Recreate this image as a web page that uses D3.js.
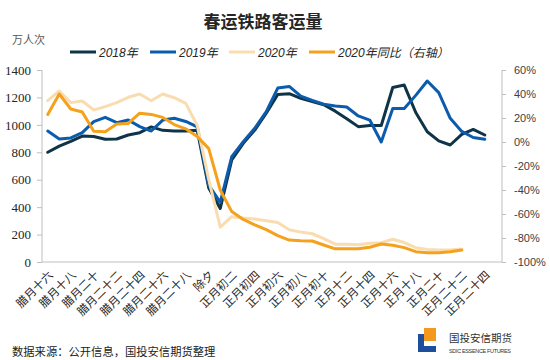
<!DOCTYPE html>
<html>
<head>
<meta charset="utf-8">
<script src="https://cdn.jsdelivr.net/npm/d3@7"></script>
<style>
  body { margin: 0; background: #fff; }
  svg { display: block; }
</style>
</head>
<body>
<div id="chart"></div>
<script>
// lunar days, one point per day
const days = ["腊月十六","腊月十七","腊月十八","腊月十九","腊月二十","腊月二十一","腊月二十二","腊月二十三",
  "腊月二十四","腊月二十五","腊月二十六","腊月二十七","腊月二十八","腊月二十九","除夕",
  "正月初一","正月初二","正月初三","正月初四","正月初五","正月初六","正月初七","正月初八","正月初九","正月初十",
  "正月十一","正月十二","正月十三","正月十四","正月十五","正月十六","正月十七","正月十八","正月十九","正月二十",
  "正月二十一","正月二十二","正月二十三","正月二十四","正月二十五"];

// 万人次
const y2018 = [800,845,880,918,915,895,897,926,943,985,960,955,955,960,540,390,744,865,962,1085,
  1222,1227,1193,1170,1147,1100,1045,987,995,995,1272,1290,1090,950,883,853,930,967,926];
const y2019 = [955,897,905,943,1023,1055,1016,1035,987,955,1035,1048,1025,985,560,435,768,877,975,1096,
  1268,1280,1210,1178,1150,1138,1130,1065,1035,875,1120,1120,1215,1320,1235,1048,952,908,895];
const y2020 = [1176,1247,1162,1174,1108,1133,1162,1201,1225,1176,1225,1198,1157,995,600,255,330,320,313,301,
  288,235,218,206,170,130,129,125,136,140,166,142,104,92,87,87,95];
// 2020年同比, %
const yoy2020 = [23,40,27.5,25,9,8.5,15,15.5,24,23,20.5,14.5,11,4.5,-5.5,-40,-58,-64.5,-69,-73,
  -78,-81.7,-82.3,-82.5,-85.8,-89,-89,-89,-87.7,-85,-86,-88,-91.4,-92.2,-92.2,-91.4,-90];

const leftTicks = [0,200,400,600,800,1000,1200,1400];
const rightTicks = [-100,-80,-60,-40,-20,0,20,40,60];

const W = 550, H = 360;
const pL = 42, pR = 502, pT = 70, pB = 262;

const svg = d3.select("#chart").append("svg").attr("width", W).attr("height", H);

const x = d3.scalePoint().domain(days).range([pL, pR]).padding(0.5);
const y = d3.scaleLinear().domain([0, 1400]).range([pB, pT]);
const y2 = d3.scaleLinear().domain([-100, 60]).range([pB, pT]);

// title
svg.append("text").attr("x", 263).attr("y", 28).attr("text-anchor", "middle")
  .style("font-family", "'Noto Sans CJK SC'").style("font-size", "17px").style("font-weight", "bold")
  .style("fill", "#262626").text("春运铁路客运量");

svg.append("text").attr("x", 12).attr("y", 44)
  .style("font-family", "'Noto Sans CJK SC'").style("font-size", "11px").style("fill", "#595959").text("万人次");

// legend
const series = [
  {name: "2018年", color: "#0f3447", lx: 70},
  {name: "2019年", color: "#0b5cad", lx: 150},
  {name: "2020年", color: "#f9ddb0", lx: 229},
  {name: "2020年同比（右轴）", color: "#f5a11c", lx: 309}
];
const lg = svg.append("g");
series.forEach(s => {
  lg.append("line").attr("x1", s.lx).attr("x2", s.lx + 26).attr("y1", 52).attr("y2", 52)
    .attr("stroke", s.color).attr("stroke-width", 3);
  lg.append("text").attr("x", s.lx + 29).attr("y", 56.5)
    .style("font-family", "'Liberation Sans','Noto Sans CJK SC'").style("font-size", "12px")
    .style("font-style", "italic").style("fill", "#262626").text(s.name);
});

// left axis
const axL = svg.append("g").attr("transform", "translate(" + pL + ",0)")
  .call(d3.axisLeft(y).tickValues(leftTicks).tickSize(5).tickPadding(6).tickFormat(d3.format("d")));
axL.select(".domain").attr("stroke", "#bfbfbf").attr("d", "M0," + pT + "V" + pB);
axL.selectAll(".tick line").attr("stroke", "#bfbfbf");
axL.selectAll("text").style("font-family", "'Liberation Serif'").style("font-size", "13px").style("fill", "#262626");

// right axis
const axR = svg.append("g").attr("transform", "translate(" + pR + ",0)")
  .call(d3.axisRight(y2).tickValues(rightTicks).tickSize(4).tickPadding(8).tickFormat(d => d + "%"));
axR.select(".domain").attr("stroke", "#bfbfbf").attr("d", "M0," + pT + "V" + pB);
axR.selectAll(".tick line").attr("stroke", "#bfbfbf");
axR.selectAll("text").style("font-family", "'Liberation Sans'").style("font-size", "11px").style("fill", "#404040");

// bottom axis
const axB = svg.append("g").attr("transform", "translate(0," + pB + ")")
  .call(d3.axisBottom(x).tickSize(0).tickFormat(""));
axB.select(".domain").attr("stroke", "#bfbfbf").attr("d", "M" + pL + ",0H" + pR);

svg.append("g").selectAll("text")
  .data(days.filter((d, i) => i % 2 == 0))
  .enter().append("text")
  .attr("transform", d => "translate(" + (x(d) + 3) + "," + (pB + 11) + ") rotate(-45)")
  .attr("text-anchor", "end").attr("dy", "0.35em")
  .style("font-family", "'Noto Sans CJK SC'").style("font-size", "11.5px").style("fill", "#262626")
  .text(d => d);

// lines
const line = d3.line().x((d, i) => x(days[i])).y(d => y(d));
const line2 = d3.line().x((d, i) => x(days[i])).y(d => y2(d));

const plots = [[y2018, line, 0], [y2019, line, 1], [y2020, line, 2], [yoy2020, line2, 3]];
plots.forEach(p => {
  svg.append("path").datum(p[0]).attr("d", p[1])
    .attr("fill", "none").attr("stroke", series[p[2]].color).attr("stroke-width", 3)
    .attr("stroke-linejoin", "round").attr("stroke-linecap", "round");
});

// source
svg.append("text").attr("x", 12).attr("y", 356)
  .style("font-family", "'Noto Sans CJK SC'").style("font-size", "11.3px").style("fill", "#222")
  .text("数据来源：公开信息，国投安信期货整理");

// logo
const logo = svg.append("g");
logo.append("rect").attr("x", 424).attr("y", 328).attr("width", 12).attr("height", 13).attr("fill", "#f39a1e");
logo.append("rect").attr("x", 418).attr("y", 334).attr("width", 6).attr("height", 18).attr("fill", "#1d4f9c");
logo.append("rect").attr("x", 418).attr("y", 346).attr("width", 18).attr("height", 6).attr("fill", "#1d4f9c");
logo.append("text").attr("x", 449).attr("y", 342)
  .style("font-family", "'Noto Sans CJK SC'").style("font-size", "10.5px").style("fill", "#333")
  .text("国投安信期货");
logo.append("text").attr("x", 449).attr("y", 353).attr("textLength", 62)
  .style("font-family", "'Liberation Sans'").style("font-size", "5.5px").style("fill", "#333")
  .text("SDIC ESSENCE FUTURES");
</script>
</body>
</html>
